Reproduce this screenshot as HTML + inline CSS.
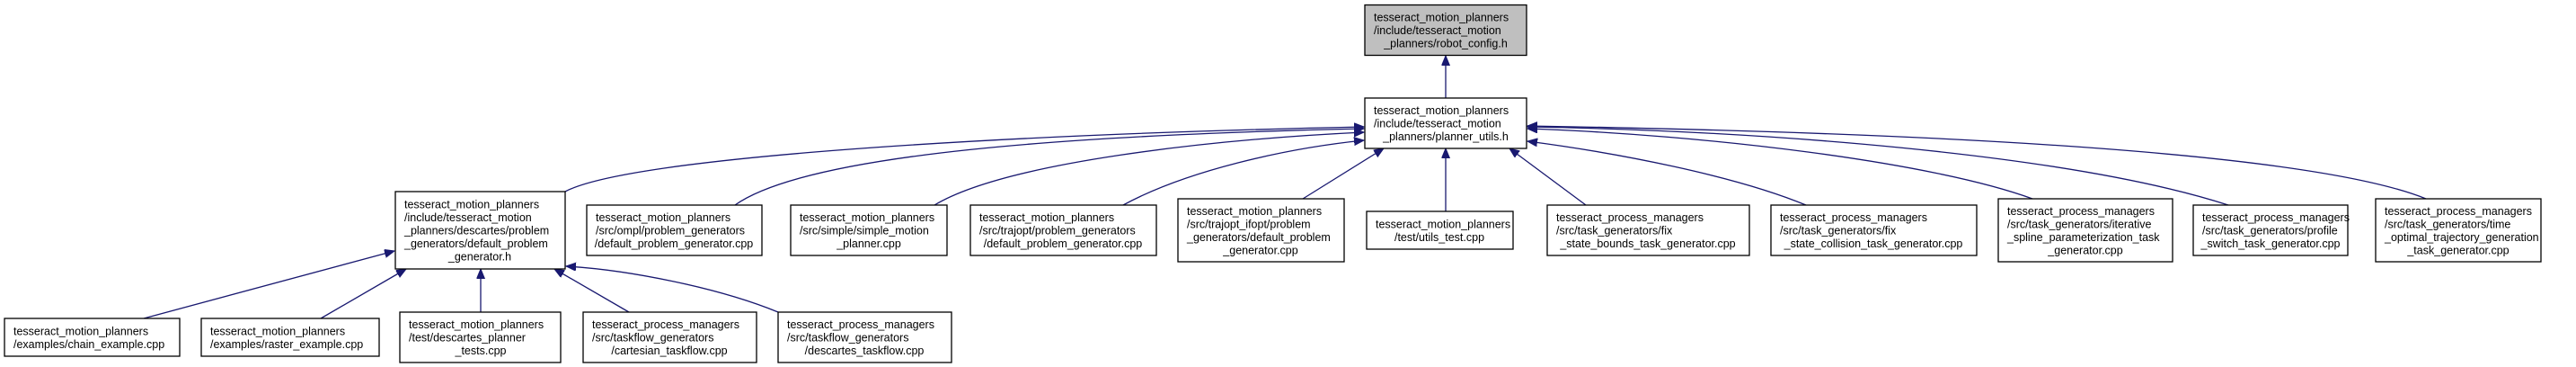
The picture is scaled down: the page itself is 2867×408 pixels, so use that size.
<!DOCTYPE html>
<html><head><meta charset="utf-8"><style>
html,body{margin:0;padding:0;background:#fff;}
svg{display:block;}
text{font-family:"Liberation Sans",Arial,sans-serif;font-size:12.5px;fill:#000;}
.b{fill:#fff;stroke:#000;stroke-width:1.3;}
.e{fill:none;stroke:#191970;stroke-width:1.3;}
</style></head><body>
<svg width="2867" height="408" viewBox="0 0 2867 408" xmlns="http://www.w3.org/2000/svg">
<defs><marker id="a" markerWidth="12" markerHeight="10" refX="11" refY="4.5" orient="auto" markerUnits="userSpaceOnUse"><path d="M0,0 L11,4.5 L0,9 z" fill="#191970" stroke="#191970"/></marker></defs>

<!-- edges -->
<path class="e" marker-end="url(#a)" d="M1609,110 L1609,62"/>
<path class="e" marker-end="url(#a)" d="M629,213 C700,175 1100,150 1518,141"/>
<path class="e" marker-end="url(#a)" d="M818,228 C900,170 1200,150 1518,143"/>
<path class="e" marker-end="url(#a)" d="M1040,228 C1120,180 1350,155 1518,147"/>
<path class="e" marker-end="url(#a)" d="M1250,228 C1320,190 1430,165 1518,156"/>
<path class="e" marker-end="url(#a)" d="M1450,221 L1540,165"/>
<path class="e" marker-end="url(#a)" d="M1609,235 L1609,165"/>
<path class="e" marker-end="url(#a)" d="M1765,228 L1680,165"/>
<path class="e" marker-end="url(#a)" d="M2010,228 C1930,195 1800,170 1700,157"/>
<path class="e" marker-end="url(#a)" d="M2262,221 C2150,180 1900,150 1700,143"/>
<path class="e" marker-end="url(#a)" d="M2480,228 C2300,170 1950,145 1700,141"/>
<path class="e" marker-end="url(#a)" d="M2700,221 C2550,160 2000,145 1700,140"/>

<path class="e" marker-end="url(#a)" d="M160,354 L439,279"/>
<path class="e" marker-end="url(#a)" d="M357,354 L452,299"/>
<path class="e" marker-end="url(#a)" d="M535,347 L535,299"/>
<path class="e" marker-end="url(#a)" d="M700,347 L617,299"/>
<path class="e" marker-end="url(#a)" d="M866,347 C800,320 700,300 630,296"/>

<!-- top -->
<rect x="1519" y="5.5" width="180" height="56" fill="#bfbfbf" stroke="#000" stroke-width="1.3"/>
<text x="1529" y="23.5">tesseract_motion_planners</text>
<text x="1529" y="38">/include/tesseract_motion</text>
<text x="1609" y="52.5" text-anchor="middle">_planners/robot_config.h</text>

<rect class="b" x="1519" y="109" width="180" height="56"/>
<text x="1529" y="127">tesseract_motion_planners</text>
<text x="1529" y="141.5">/include/tesseract_motion</text>
<text x="1609" y="156" text-anchor="middle">_planners/planner_utils.h</text>

<!-- row2 -->
<rect class="b" x="440" y="213" width="189" height="86"/>
<text x="450" y="231.5">tesseract_motion_planners</text>
<text x="450" y="246">/include/tesseract_motion</text>
<text x="450" y="260.5">_planners/descartes/problem</text>
<text x="450" y="275">_generators/default_problem</text>
<text x="534" y="289.5" text-anchor="middle">_generator.h</text>

<rect class="b" x="653" y="228" width="195" height="56"/>
<text x="663" y="246">tesseract_motion_planners</text>
<text x="663" y="260.5">/src/ompl/problem_generators</text>
<text x="750" y="275" text-anchor="middle">/default_problem_generator.cpp</text>

<rect class="b" x="880" y="228" width="174" height="56"/>
<text x="890" y="246">tesseract_motion_planners</text>
<text x="890" y="260.5">/src/simple/simple_motion</text>
<text x="967" y="275" text-anchor="middle">_planner.cpp</text>

<rect class="b" x="1080" y="228" width="207" height="56"/>
<text x="1090" y="246">tesseract_motion_planners</text>
<text x="1090" y="260.5">/src/trajopt/problem_generators</text>
<text x="1183" y="275" text-anchor="middle">/default_problem_generator.cpp</text>

<rect class="b" x="1311" y="221" width="185" height="70"/>
<text x="1321" y="238.75">tesseract_motion_planners</text>
<text x="1321" y="253.25">/src/trajopt_ifopt/problem</text>
<text x="1321" y="267.75">_generators/default_problem</text>
<text x="1403" y="282.25" text-anchor="middle">_generator.cpp</text>

<rect class="b" x="1521" y="235" width="163" height="42"/>
<text x="1531" y="253.25">tesseract_motion_planners</text>
<text x="1602" y="267.75" text-anchor="middle">/test/utils_test.cpp</text>

<rect class="b" x="1722" y="228" width="225" height="56"/>
<text x="1732" y="246">tesseract_process_managers</text>
<text x="1732" y="260.5">/src/task_generators/fix</text>
<text x="1834" y="275" text-anchor="middle">_state_bounds_task_generator.cpp</text>

<rect class="b" x="1971" y="228" width="229" height="56"/>
<text x="1981" y="246">tesseract_process_managers</text>
<text x="1981" y="260.5">/src/task_generators/fix</text>
<text x="2085" y="275" text-anchor="middle">_state_collision_task_generator.cpp</text>

<rect class="b" x="2224" y="221" width="194" height="70"/>
<text x="2234" y="238.75">tesseract_process_managers</text>
<text x="2234" y="253.25">/src/task_generators/iterative</text>
<text x="2234" y="267.75">_spline_parameterization_task</text>
<text x="2321" y="282.25" text-anchor="middle">_generator.cpp</text>

<rect class="b" x="2441" y="228" width="172" height="56"/>
<text x="2451" y="246">tesseract_process_managers</text>
<text x="2451" y="260.5">/src/task_generators/profile</text>
<text x="2527" y="275" text-anchor="middle">_switch_task_generator.cpp</text>

<rect class="b" x="2644" y="221" width="184" height="70"/>
<text x="2654" y="238.75">tesseract_process_managers</text>
<text x="2654" y="253.25">/src/task_generators/time</text>
<text x="2654" y="267.75">_optimal_trajectory_generation</text>
<text x="2736" y="282.25" text-anchor="middle">_task_generator.cpp</text>

<!-- row3 -->
<rect class="b" x="5" y="354" width="195" height="42"/>
<text x="15" y="372.25">tesseract_motion_planners</text>
<text x="15" y="386.75">/examples/chain_example.cpp</text>

<rect class="b" x="224" y="354" width="198" height="42"/>
<text x="234" y="372.25">tesseract_motion_planners</text>
<text x="234" y="386.75">/examples/raster_example.cpp</text>

<rect class="b" x="445" y="347" width="179" height="56"/>
<text x="455" y="365">tesseract_motion_planners</text>
<text x="455" y="379.5">/test/descartes_planner</text>
<text x="535" y="394" text-anchor="middle">_tests.cpp</text>

<rect class="b" x="649" y="347" width="193" height="56"/>
<text x="659" y="365">tesseract_process_managers</text>
<text x="659" y="379.5">/src/taskflow_generators</text>
<text x="745" y="394" text-anchor="middle">/cartesian_taskflow.cpp</text>

<rect class="b" x="866" y="347" width="193" height="56"/>
<text x="876" y="365">tesseract_process_managers</text>
<text x="876" y="379.5">/src/taskflow_generators</text>
<text x="962" y="394" text-anchor="middle">/descartes_taskflow.cpp</text>
</svg>
</body></html>
